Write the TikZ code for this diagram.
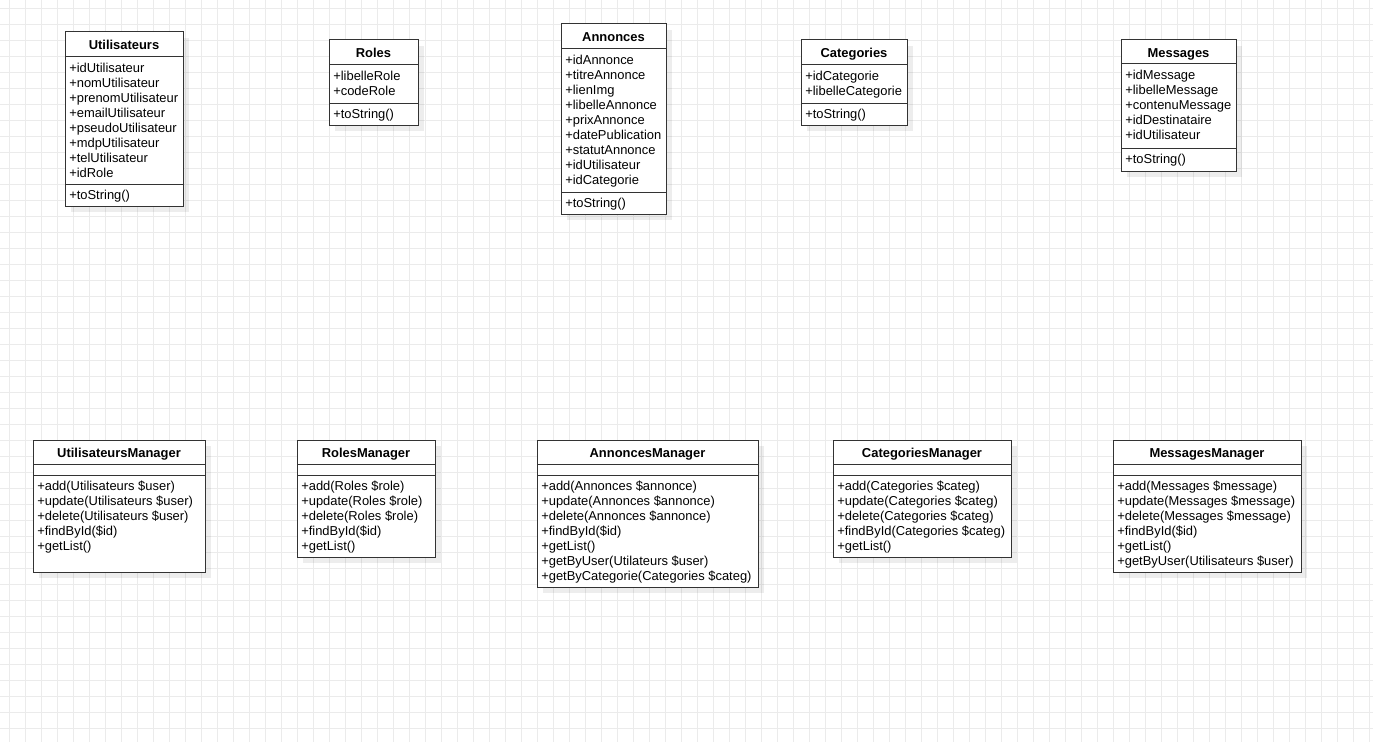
\documentclass[tikz,border=0pt]{standalone}
\usepackage{fontspec}
\setmainfont{Liberation Sans}
\usetikzlibrary{fit}
\definecolor{gridc}{HTML}{EBEBEB}
\definecolor{linec}{HTML}{333333}
\tikzset{
  frame/.style={draw=linec, line width=0.75pt, fill=white, inner sep=0pt},
  sepline/.style={draw=linec, line width=0.75pt},
  shadowbox/.style={fill=black, fill opacity=0.07, draw=none},
  gridline/.style={draw=gridc, line width=0.75pt},
  umltitle/.style={font=\bfseries\fontsize{9.7}{11}\selectfont, inner sep=0pt, text height=7pt, text depth=1.7pt},
  member/.style={font=\fontsize{9.7}{11}\selectfont, inner sep=0pt, anchor=west, text height=7pt, text depth=1.7pt},
}
% #1 name, #2 x1, #3 y1, #4 x2, #5 y2, #6 title, #7 first separator, #8 second separator
\newcommand\umlbox[8]{%
  \fill[shadowbox] (#2+6,#3+6) rectangle (#4+6,#5+6);
  \node[frame, fit={(#2,#3) (#4,#5)}] (#1) {};
  \node[umltitle] (#1-title) at ({(#2+#4)/2},{(#3+#7)/2+1.5}) {#6};
  \draw[sepline] (#2,#7) -- (#4,#7);
  \draw[sepline] (#2,#8) -- (#4,#8);
}
% #1 name, #2 tag, #3 x1, #4 separator, #5 list
\newcommand\umlrows[5]{%
  \foreach \t [count=\i from 0] in {#5} {
    \node[member] (#1-#2\i) at (#3+4,#4+12+15*\i) {\t};
  }
}
\begin{document}
\begin{tikzpicture}[x=0.75pt,y=-0.75pt]
\useasboundingbox (0,0) rectangle (1373,742);
\fill[white] (0,0) rectangle (1373,742);
\foreach \x in {9.5,25.5,...,1373} \draw[gridline] (\x,0) -- (\x,742);
\foreach \y in {8.5,24.5,...,742} \draw[gridline] (0,\y) -- (1373,\y);

% ---------- entity classes ----------
\umlbox{util}{65}{32}{183}{206}{Utilisateurs}{57}{184}
\umlrows{util}{a}{65}{57}{+idUtilisateur,+nomUtilisateur,+prenomUtilisateur,+emailUtilisateur,+pseudoUtilisateur,+mdpUtilisateur,+telUtilisateur,+idRole}
\umlrows{util}{m}{65}{184}{+toString()}

\umlbox{roles}{329}{40}{418}{125}{Roles}{65}{103}
\umlrows{roles}{a}{329}{65}{+libelleRole,+codeRole}
\umlrows{roles}{m}{329}{103}{+toString()}

\umlbox{ann}{561}{24}{666}{214}{Annonces}{49}{192}
\umlrows{ann}{a}{561}{49}{+idAnnonce,+titreAnnonce,+lienImg,+libelleAnnonce,+prixAnnonce,+datePublication,+statutAnnonce,+idUtilisateur,+idCategorie}
\umlrows{ann}{m}{561}{192}{+toString()}

\umlbox{cat}{801}{40}{907}{125}{Categories}{65}{103}
\umlrows{cat}{a}{801}{65}{+idCategorie,+libelleCategorie}
\umlrows{cat}{m}{801}{103}{+toString()}

\umlbox{msg}{1121}{40}{1236}{171}{Messages}{64}{148}
\umlrows{msg}{a}{1121}{64}{+idMessage,+libelleMessage,+contenuMessage,+idDestinataire,+idUtilisateur}
\umlrows{msg}{m}{1121}{148}{+toString()}

% ---------- manager classes ----------
\umlbox{utilm}{33}{440}{205}{572}{UtilisateursManager}{464}{475}
\umlrows{utilm}{m}{33}{475}{+add(Utilisateurs \$user),+update(Utilisateurs \$user),+delete(Utilisateurs \$user),+findById(\$id),+getList()}

\umlbox{rolesm}{297}{440}{435}{557}{RolesManager}{464}{475}
\umlrows{rolesm}{m}{297}{475}{+add(Roles \$role),+update(Roles \$role),+delete(Roles \$role),+findById(\$id),+getList()}

\umlbox{annm}{537}{440}{758}{587}{AnnoncesManager}{464}{475}
\umlrows{annm}{m}{537}{475}{+add(Annonces \$annonce),+update(Annonces \$annonce),+delete(Annonces \$annonce),+findById(\$id),+getList(),+getByUser(Utilateurs \$user),+getByCategorie(Categories \$categ)}

\umlbox{catm}{833}{440}{1011}{557}{CategoriesManager}{464}{475}
\umlrows{catm}{m}{833}{475}{+add(Categories \$categ),+update(Categories \$categ),+delete(Categories \$categ),+findById(Categories \$categ),+getList()}

\umlbox{msgm}{1113}{440}{1301}{572}{MessagesManager}{464}{475}
\umlrows{msgm}{m}{1113}{475}{+add(Messages \$message),+update(Messages \$message),+delete(Messages \$message),+findById(\$id),+getList(),+getByUser(Utilisateurs \$user)}
\end{tikzpicture}
\end{document}
